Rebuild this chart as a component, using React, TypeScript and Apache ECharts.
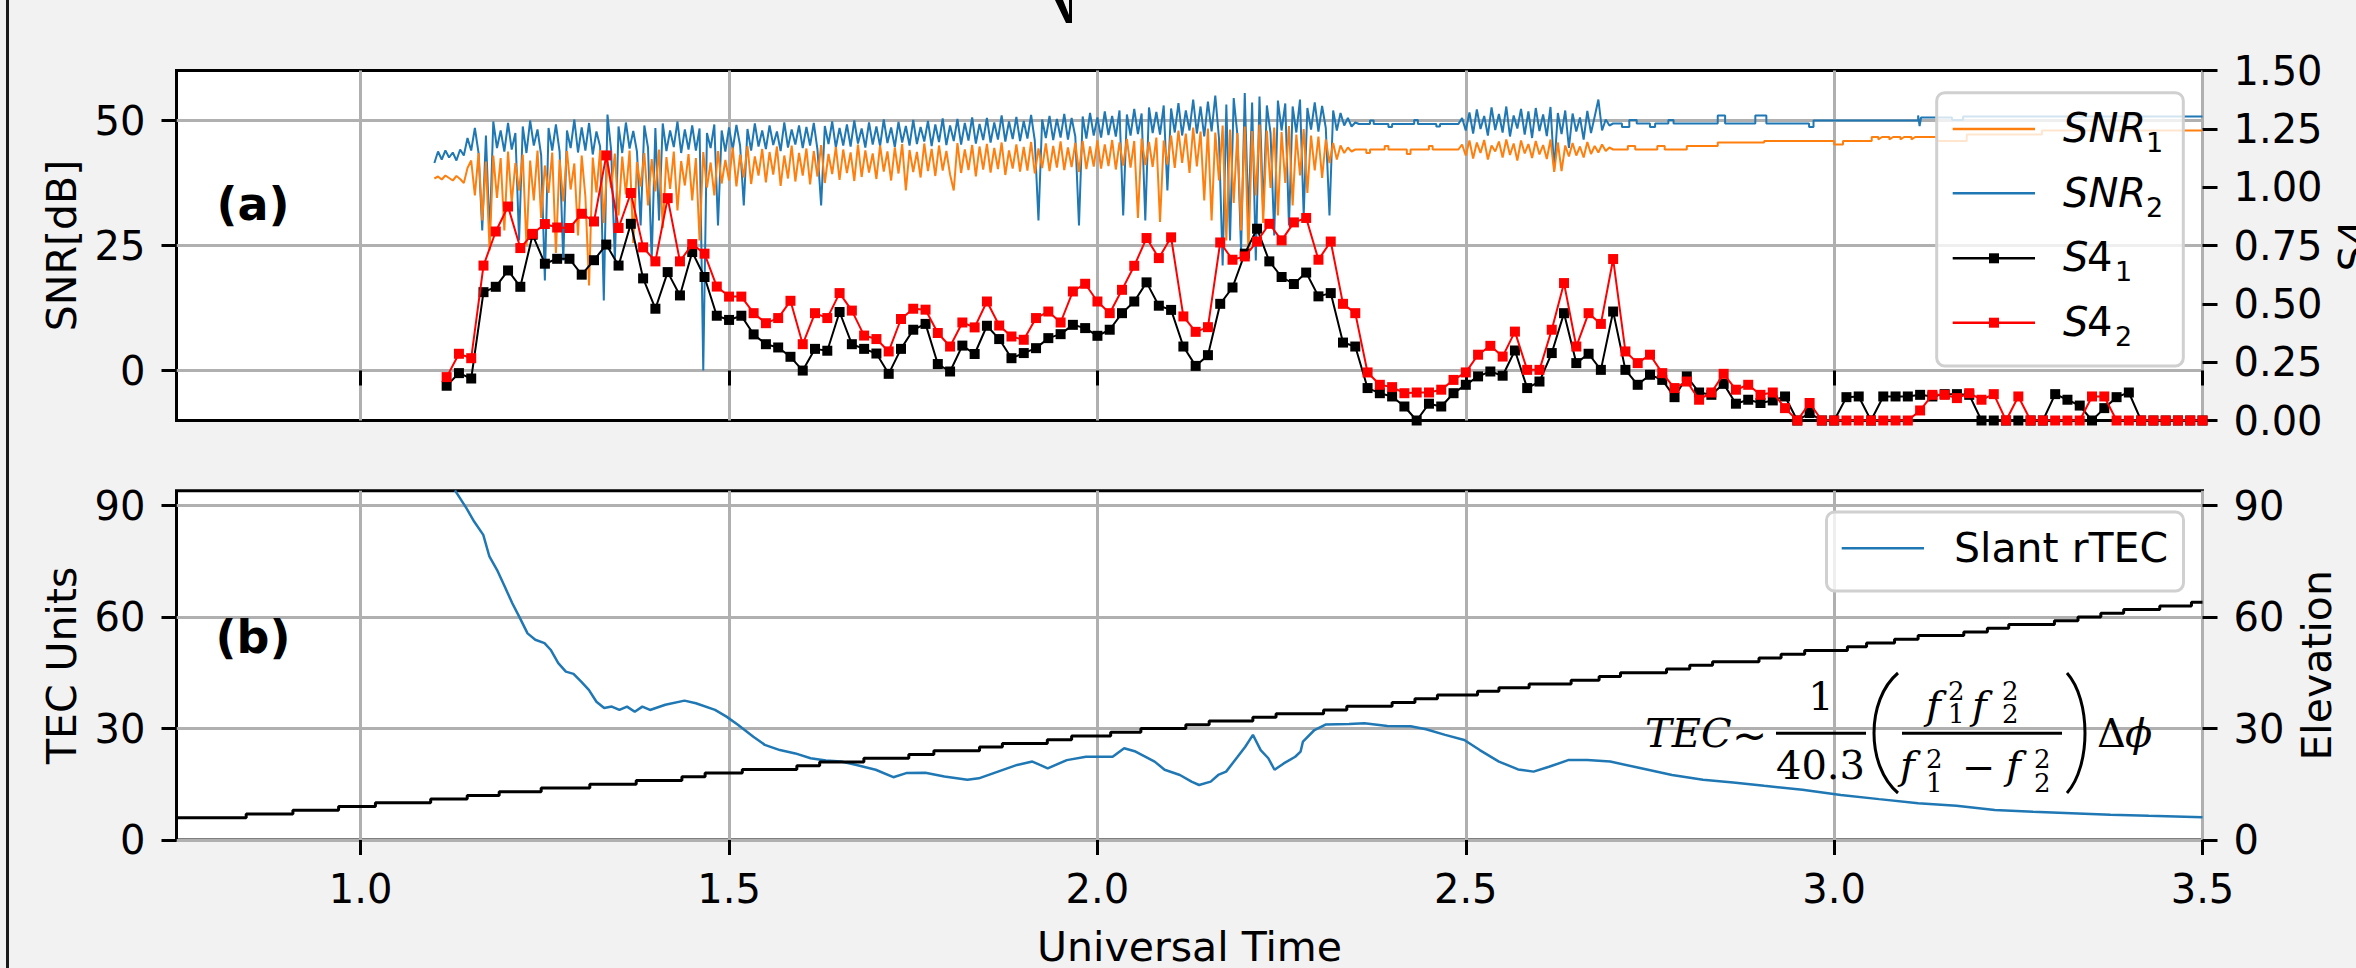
import React, { useEffect, useRef } from 'react';
import * as echarts from 'echarts';

// ---------- axis ticks ----------
const X_TICKS = [1.0, 1.5, 2.0, 2.5, 3.0, 3.5];
const SNR_TICKS = [0, 25, 50];
const TEC_TICKS = [0, 30, 60, 90];
const ELEV_TICKS = [0, 30, 60, 90];

// ---------- SNR (dB), noisy part sampled every 0.005 h from 1.100 h ----------
const SNR_A_START = 1.1;
const SNR_B_START = 2.495;
const SNR_STEP = 0.005;

const snr2NoiseA = [
  41.5, 43.8, 42.2, 44.0, 42.6, 43.6, 42.0, 44.2, 43.0, 46.5,
  44.0, 48.5, 43.5, 28.0, 47.0, 27.0, 49.8, 44.5, 48.0, 43.8,
  49.5, 44.2, 47.5, 26.0, 48.8, 43.5, 50.0, 45.0, 48.2, 43.0,
  18.0, 48.5, 44.0, 49.2, 43.8, 22.0, 48.0, 44.5, 50.2, 43.6,
  48.6, 44.0, 49.5, 43.2, 47.8, 44.8, 14.0, 51.2, 44.0, 22.0,
  48.8, 43.5, 49.6, 44.4, 47.9, 43.8, 29.0, 49.0, 44.6, 22.0,
  48.5, 30.0, 49.4, 43.9, 48.0, 44.7, 49.8, 43.5, 48.2, 44.2,
  49.0, 44.0, 48.4, 0.0, 47.5, 44.5, 49.2, 29.0, 48.0, 43.8,
  48.6, 44.2, 49.1, 45.0, 33.0, 48.3, 44.0, 49.4, 44.8, 48.0,
  44.3, 49.0, 45.1, 47.8, 43.9, 49.6, 44.6, 48.2, 45.2, 49.0,
  44.5, 48.7, 45.0, 49.5, 44.2, 33.0, 48.9, 45.3, 49.8, 44.6,
  48.5, 45.0, 49.2, 44.8, 50.0, 45.4, 48.4, 44.6, 49.6, 45.2,
  48.8, 44.9, 50.2, 45.5, 48.6, 44.7, 49.7, 45.6, 48.9, 45.0,
  50.1, 45.3, 48.7, 45.8, 49.9, 44.9, 49.2, 45.7, 50.4, 45.1,
  49.0, 45.9, 50.3, 45.2, 49.5, 46.0, 50.6, 45.4, 49.3, 46.1,
  50.5, 45.6, 49.6, 46.2, 51.0, 45.8, 49.8, 46.3, 50.7, 45.9,
  49.9, 46.4, 51.1, 46.0, 30.0, 50.2, 46.5, 50.9, 46.1, 50.3,
  46.6, 51.3, 46.2, 50.5, 46.8, 29.0, 50.8, 46.4, 51.5, 47.0,
  50.6, 46.6, 51.8, 47.1, 50.9, 46.8, 52.0, 31.0, 51.2, 47.0,
  52.3, 47.3, 51.4, 30.0, 52.6, 47.5, 51.7, 47.2, 53.0, 36.0,
  52.4, 47.6, 53.5, 47.0, 52.0, 48.0, 54.2, 47.4, 52.8, 46.8,
  53.8, 47.8, 55.0, 46.5, 21.0, 53.2, 26.0, 54.5, 47.2, 24.0,
  55.5, 30.0, 53.6, 22.0, 54.8, 32.0, 53.0, 47.5, 27.0, 54.0,
  48.0, 53.4, 29.0, 52.8, 47.6, 54.2, 31.0, 52.5, 48.2, 53.6,
  47.8, 52.9, 48.5, 31.0, 52.0, 48.0, 51.5, 49.0, 50.5, 48.8,
  49.6,
];

const snr1NoiseA = [
  38.4, 38.8, 38.2, 39.0, 38.5, 38.0, 38.9, 38.3, 37.5, 40.5,
  42.0, 35.0, 43.5, 30.0, 41.8, 24.0, 43.0, 34.5, 42.5, 28.0,
  43.8, 33.5, 41.5, 36.0, 43.2, 25.0, 42.0, 34.0, 44.0, 30.5,
  41.0, 35.5, 43.6, 23.5, 42.2, 33.8, 43.9, 36.2, 41.4, 27.0,
  43.0, 34.8, 17.0, 42.6, 35.6, 44.1, 29.5, 42.0, 36.5, 43.4,
  31.0, 42.8, 35.2, 44.0, 25.5, 41.7, 36.8, 43.5, 33.0, 42.3,
  35.8, 44.2, 28.5, 42.7, 36.3, 43.8, 32.0, 41.9, 37.0, 43.3,
  34.0, 42.5, 26.0, 43.7, 36.6, 41.6, 35.0, 43.9, 37.4, 42.1,
  38.0, 44.6, 36.8, 43.2, 38.6, 44.9, 37.3, 42.8, 39.0, 44.3,
  37.6, 43.7, 39.2, 44.8, 36.9, 43.0, 38.4, 45.0, 37.8, 43.5,
  39.0, 44.4, 37.2, 43.9, 38.8, 45.1, 37.5, 43.3, 39.3, 44.7,
  38.1, 44.2, 39.5, 43.6, 37.9, 45.2, 38.7, 44.0, 39.6, 43.4,
  38.3, 45.0, 39.8, 43.8, 38.0, 44.6, 39.4, 45.3, 36.0, 44.1,
  39.7, 43.7, 38.6, 45.4, 39.9, 44.3, 38.9, 45.0, 40.0, 43.9,
  39.2, 36.0, 45.5, 39.5, 44.2, 40.1, 45.1, 38.8, 44.8, 40.2,
  45.3, 39.6, 44.5, 40.3, 45.6, 39.1, 44.0, 40.4, 45.2, 39.8,
  44.7, 40.0, 45.7, 39.4, 44.4, 40.5, 45.4, 39.9, 44.9, 40.6,
  45.8, 40.1, 44.6, 40.7, 45.5, 39.7, 45.9, 40.3, 44.8, 40.8,
  46.0, 40.4, 45.2, 40.9, 46.1, 40.2, 45.6, 41.0, 46.3, 40.6,
  45.9, 30.5, 46.4, 41.1, 45.7, 40.7, 46.6, 29.7, 46.0, 41.2,
  47.0, 40.5, 48.0, 41.5, 47.4, 39.5, 48.6, 40.8, 47.8, 34.0,
  48.4, 30.0, 47.6, 38.0, 49.0, 26.0, 48.2, 33.5, 47.5, 28.0,
  48.8, 23.6, 47.9, 35.0, 49.2, 29.5, 48.0, 36.5, 48.6, 31.0,
  47.7, 37.5, 48.9, 33.0, 47.2, 39.0, 48.3, 35.5, 47.0, 40.0,
  46.8, 38.5, 46.2, 41.5, 45.5, 42.2, 45.0, 43.5, 44.6, 43.8,
  44.2,
];

const snr2Mid: number[][] = [
  [2.355, 49.3], [2.37, 49.3], [2.37, 50.0], [2.375, 50.0], [2.375, 49.3], [2.395, 49.3],
  [2.395, 48.7], [2.4, 48.7], [2.4, 49.3], [2.43, 49.3], [2.43, 50.1], [2.435, 50.1],
  [2.435, 49.3], [2.46, 49.3], [2.46, 48.8], [2.465, 48.8], [2.465, 49.3], [2.49, 49.3],
];
const snr1Mid: number[][] = [
  [2.355, 44.2], [2.365, 44.2], [2.365, 43.5], [2.37, 43.5], [2.37, 44.2], [2.39, 44.2],
  [2.39, 44.9], [2.395, 44.9], [2.395, 44.2], [2.42, 44.2], [2.42, 43.3], [2.425, 43.3],
  [2.425, 44.2], [2.45, 44.2], [2.45, 44.9], [2.455, 44.9], [2.455, 44.2], [2.49, 44.2],
];

const snr2NoiseB = [
  50.5, 48.0, 51.6, 47.4, 52.2, 48.3, 50.9, 47.0, 52.6, 48.1,
  51.3, 47.6, 52.8, 46.8, 51.0, 48.4, 52.3, 47.2, 51.8, 46.5,
  52.5, 47.9, 51.2, 46.9, 52.7, 40.2, 51.5, 47.3, 52.0, 44.5,
  51.4, 47.8, 50.6, 46.2, 51.9, 47.5, 50.8, 54.2, 48.0, 50.2,
  49.0, 49.4,
];
const snr1NoiseB = [
  45.2, 43.0, 46.0, 42.4, 45.6, 43.5, 46.1, 42.2, 45.0, 43.8,
  45.8, 42.6, 46.2, 43.1, 45.4, 42.0, 46.0, 43.4, 45.3, 42.5,
  45.9, 43.2, 45.1, 42.3, 46.2, 39.7, 45.6, 39.9, 45.0, 42.8,
  45.5, 43.0, 44.8, 42.6, 45.7, 43.3, 44.9, 43.6, 45.2, 43.9,
  44.6, 44.2,
];

const snr2Tail: number[][] = [
  [2.7, 49.4], [2.712, 49.4], [2.712, 48.7], [2.722, 48.7], [2.722, 50.1], [2.732, 50.1],
  [2.732, 49.4], [2.75, 49.4], [2.75, 48.7], [2.757, 48.7], [2.757, 49.4], [2.775, 49.4],
  [2.775, 50.1], [2.782, 50.1], [2.782, 49.4], [2.842, 49.4], [2.842, 51.0], [2.852, 51.0],
  [2.852, 49.4], [2.893, 49.4], [2.893, 51.0], [2.908, 51.0], [2.908, 49.4], [2.966, 49.4],
  [2.966, 48.7], [2.972, 48.7], [2.972, 50.0], [3.114, 50.0], [3.114, 51.0], [3.116, 48.9],
  [3.118, 50.6], [3.16, 50.6], [3.16, 50.1], [3.175, 50.1], [3.175, 50.8], [3.5, 50.8],
];
const snr1Tail: number[][] = [
  [2.7, 44.2], [2.72, 44.2], [2.72, 44.9], [2.73, 44.9], [2.73, 44.2], [2.76, 44.2],
  [2.76, 44.9], [2.77, 44.9], [2.77, 44.2], [2.8, 44.2], [2.8, 44.9], [2.842, 44.9],
  [2.842, 45.6], [2.905, 45.6], [2.905, 45.9], [3.0, 45.9], [3.0, 45.2], [3.012, 45.2],
  [3.012, 45.9], [3.051, 45.9], [3.051, 46.7], [3.06, 46.7], [3.06, 46.2], [3.065, 46.7],
  [3.075, 46.7], [3.075, 46.2], [3.08, 46.7], [3.09, 46.7], [3.09, 46.2], [3.095, 46.7],
  [3.105, 46.7], [3.105, 46.2], [3.11, 46.7], [3.14, 46.7], [3.14, 45.9], [3.18, 45.9],
  [3.18, 47.2], [3.282, 47.2], [3.282, 48.0], [3.5, 48.0],
];

// ---------- S4 index, one value per minute from 1.1167 h ----------
const S4_START = 1.1167;
const S4_STEP = 1 / 60;
const s4One = [
  0.149, 0.203, 0.180, 0.550, 0.573, 0.643, 0.573, 0.796, 0.672, 0.693,
  0.693, 0.625, 0.687, 0.754, 0.664, 0.843, 0.609, 0.479, 0.636, 0.536,
  0.722, 0.615, 0.449, 0.431, 0.449, 0.369, 0.327, 0.313, 0.273, 0.214,
  0.307, 0.299, 0.465, 0.327, 0.307, 0.287, 0.200, 0.307, 0.389, 0.414,
  0.242, 0.210, 0.321, 0.285, 0.406, 0.349, 0.267, 0.289, 0.310, 0.353,
  0.370, 0.410, 0.396, 0.363, 0.389, 0.460, 0.510, 0.592, 0.492, 0.474,
  0.317, 0.234, 0.280, 0.500, 0.570, 0.715, 0.822, 0.682, 0.615, 0.585,
  0.634, 0.532, 0.546, 0.334, 0.317, 0.139, 0.117, 0.103, 0.060, 0.000,
  0.072, 0.060, 0.117, 0.153, 0.189, 0.210, 0.192, 0.300, 0.139, 0.167,
  0.289, 0.460, 0.246, 0.286, 0.217, 0.467, 0.217, 0.153, 0.196, 0.174,
  0.100, 0.189, 0.120, 0.110, 0.157, 0.072, 0.089, 0.075, 0.086, 0.103,
  0.000, 0.032, 0.000, 0.000, 0.100, 0.103, 0.000, 0.103, 0.103, 0.103,
  0.110, 0.103, 0.113, 0.113, 0.110, 0.000, 0.000, 0.000, 0.000, 0.000,
  0.000, 0.113, 0.089, 0.064, 0.000, 0.053, 0.100, 0.120, 0.000, 0.000,
  0.000, 0.000, 0.000, 0.000,
];
const s4Two = [
  0.186, 0.286, 0.267, 0.664, 0.810, 0.917, 0.739, 0.800, 0.842, 0.827,
  0.825, 0.886, 0.853, 1.136, 0.825, 0.975, 0.742, 0.682, 0.953, 0.682,
  0.756, 0.715, 0.574, 0.531, 0.531, 0.460, 0.417, 0.439, 0.513, 0.327,
  0.460, 0.439, 0.546, 0.471, 0.364, 0.349, 0.296, 0.435, 0.479, 0.475,
  0.375, 0.317, 0.420, 0.399, 0.510, 0.407, 0.360, 0.346, 0.439, 0.467,
  0.420, 0.553, 0.586, 0.510, 0.460, 0.560, 0.663, 0.782, 0.696, 0.785,
  0.446, 0.380, 0.400, 0.763, 0.689, 0.703, 0.767, 0.843, 0.772, 0.849,
  0.868, 0.689, 0.767, 0.500, 0.460, 0.206, 0.153, 0.143, 0.117, 0.120,
  0.120, 0.132, 0.174, 0.206, 0.282, 0.320, 0.274, 0.381, 0.217, 0.217,
  0.389, 0.589, 0.317, 0.460, 0.414, 0.692, 0.296, 0.246, 0.282, 0.203,
  0.139, 0.167, 0.089, 0.120, 0.200, 0.132, 0.153, 0.110, 0.120, 0.053,
  0.000, 0.075, 0.000, 0.000, 0.000, 0.000, 0.000, 0.000, 0.000, 0.000,
  0.043, 0.110, 0.110, 0.096, 0.117, 0.089, 0.113, 0.000, 0.103, 0.000,
  0.000, 0.000, 0.000, 0.000, 0.103, 0.103, 0.000, 0.000, 0.000, 0.000,
  0.000, 0.000, 0.000, 0.000,
];

// ---------- Slant rTEC (time h, TECU) ----------
const tecPoints: number[][] = [
  [1.128, 94.1], [1.1435, 89.3], [1.154, 85.7], [1.1664, 82.1], [1.1747, 76.3], [1.185, 72.7],
  [1.1955, 68.2], [1.2058, 63.7], [1.2162, 59.7], [1.2265, 55.6], [1.237, 53.9], [1.2495, 53.0],
  [1.2578, 51.2], [1.2682, 47.6], [1.2785, 45.3], [1.2889, 44.7], [1.2993, 42.6], [1.3097, 40.4],
  [1.32, 37.2], [1.3305, 35.5], [1.3408, 35.9], [1.3512, 35.0], [1.3615, 35.9], [1.372, 34.5],
  [1.3823, 35.9], [1.3927, 35.0], [1.4135, 36.4], [1.4395, 37.5], [1.455, 36.8], [1.481, 35.0],
  [1.4965, 33.2], [1.512, 31.0], [1.533, 27.8], [1.5485, 25.6], [1.569, 24.2], [1.59, 23.3],
  [1.6107, 22.0], [1.6315, 21.4], [1.6522, 21.1], [1.673, 20.2], [1.699, 18.9], [1.723, 16.9],
  [1.7405, 18.0], [1.7664, 18.1], [1.7923, 17.1], [1.8235, 16.2], [1.839, 16.6], [1.865, 18.4],
  [1.891, 20.2], [1.9117, 21.1], [1.922, 20.2], [1.9325, 19.3], [1.9585, 21.5], [1.9844, 22.4],
  [2.0207, 22.4], [2.0363, 24.7], [2.0518, 23.8], [2.0777, 21.1], [2.0912, 18.9], [2.112, 17.5],
  [2.1277, 15.7], [2.138, 14.8], [2.1538, 15.7], [2.164, 17.5], [2.1747, 18.4], [2.1903, 22.4],
  [2.2007, 25.1], [2.2111, 28.3], [2.2216, 24.2], [2.232, 22.0], [2.2404, 18.9], [2.2529, 20.6],
  [2.2685, 22.4], [2.2758, 23.8], [2.279, 26.5], [2.2946, 29.6], [2.3103, 31.1], [2.3416, 31.2],
  [2.3624, 31.4], [2.3937, 30.7], [2.425, 30.6], [2.446, 29.8], [2.472, 28.3], [2.498, 26.9],
  [2.519, 24.2], [2.545, 21.1], [2.571, 19.0], [2.592, 18.4], [2.613, 19.7], [2.639, 21.5],
  [2.665, 21.5], [2.696, 21.1], [2.738, 19.3], [2.78, 17.5], [2.822, 16.2], [2.863, 15.5],
  [2.905, 14.6], [2.957, 13.5], [3.009, 12.1], [3.061, 11.0], [3.114, 9.9], [3.166, 9.2],
  [3.218, 8.1], [3.27, 7.6], [3.322, 7.2], [3.375, 6.8], [3.427, 6.5], [3.5, 6.1],
];

// ---------- Elevation (deg), step changes ----------
const elevTimes = [
  0.75, 0.8446, 0.908, 0.97, 1.02, 1.095, 1.1446, 1.188, 1.245, 1.311,
  1.374, 1.436, 1.4675, 1.518, 1.592, 1.623, 1.683, 1.744, 1.778, 1.84,
  1.871, 1.932, 1.965, 2.018, 2.059, 2.12, 2.1517, 2.211, 2.2425, 2.307,
  2.3385, 2.4, 2.431, 2.4615, 2.516, 2.545, 2.586, 2.643, 2.681, 2.71,
  2.7725, 2.804, 2.835, 2.898, 2.928, 2.96, 3.018, 3.044, 3.082, 3.114,
  3.176, 3.208, 3.237, 3.299, 3.331, 3.362, 3.393, 3.442, 3.485,
];
const elevValues = [
  6, 7, 8, 9, 10, 11, 12, 13, 14, 15,
  16, 17, 18, 19, 20, 21, 22, 23, 24, 25,
  26, 27, 28, 29, 30, 31, 32, 33, 34, 35,
  36, 37, 38, 39, 40, 41, 42, 43, 44, 45,
  46, 47, 48, 49, 50, 51, 52, 53, 54, 55,
  56, 57, 58, 59, 60, 61, 62, 63, 64,
];
const X_END = 3.5;

// ---------- styling constants ----------
const SANS = "'DejaVu Sans', sans-serif";
const SERIF = "'DejaVu Serif', serif";
const TICK_FS = 40;
const NAME_FS = 41;

function sampled(values: number[], start: number, step: number): number[][] {
  return values.map((v, i) => [Math.round((start + i * step) * 10000) / 10000, v]);
}

function txt(x: number, y: number, text: string, o: any = {}) {
  const style: any = {
    text,
    fill: '#000',
    fontFamily: o.family || SANS,
    fontSize: o.size || 40,
    fontStyle: o.italic ? 'italic' : 'normal',
    fontWeight: o.bold ? 'bold' : 'normal',
    align: o.align || 'left',
    textAlign: o.align || 'left',
    verticalAlign: 'middle',
    textVerticalAlign: 'middle',
  };
  if (o.lh) style.lineHeight = o.lh;
  return { type: 'text', x, y, z: 100, style };
}

function hline(x1: number, x2: number, y: number, color: string, w: number) {
  return { type: 'line', z: 100, shape: { x1, y1: y, x2, y2: y }, style: { stroke: color, lineWidth: w } };
}

function marker(cx: number, cy: number, color: string) {
  return { type: 'rect', z: 101, shape: { x: cx - 5, y: cy - 5, width: 10, height: 10 }, style: { fill: color } };
}

export default function App() {
  const ref = useRef<HTMLDivElement>(null);

  useEffect(() => {
    document.body.style.margin = '0';
    if (!ref.current) return;
    const chart = echarts.init(ref.current, null, { renderer: 'svg' });

    const snr2Data = [
      ...sampled(snr2NoiseA, SNR_A_START, SNR_STEP),
      ...snr2Mid,
      ...sampled(snr2NoiseB, SNR_B_START, SNR_STEP),
      ...snr2Tail,
    ];
    const snr1Data = [
      ...sampled(snr1NoiseA, SNR_A_START, SNR_STEP),
      ...snr1Mid,
      ...sampled(snr1NoiseB, SNR_B_START, SNR_STEP),
      ...snr1Tail,
    ];
    const s4OneData = s4One.map((v, k) => [S4_START + k * S4_STEP, v]);
    const s4TwoData = s4Two.map((v, k) => [S4_START + k * S4_STEP, v]);
    const elevData = elevTimes.map((t, i) => [t, elevValues[i]]);
    elevData.push([X_END, elevValues[elevValues.length - 1]]);

    const tickStyle = { color: '#000', width: 3 };
    const labelBase = { color: '#000', fontSize: TICK_FS, fontFamily: SANS };
    const nameStyle = { color: '#000', fontSize: NAME_FS, fontFamily: SANS };
    const gridLine = { show: true, lineStyle: { color: '#b0b0b0', width: 3 } };

    const xCommon = (gridIndex: number, showLabels: boolean) => ({
      gridIndex,
      type: 'value',
      min: 0.75,
      max: 3.5,
      axisLine: { show: false },
      axisTick: { show: true, customValues: X_TICKS, length: 15, inside: false, lineStyle: tickStyle },
      axisLabel: {
        show: showLabels,
        customValues: X_TICKS,
        margin: 29,
        formatter: (v: number) => v.toFixed(1),
        ...labelBase,
      },
      splitLine: gridLine,
    });

    const option: any = {
      animation: false,
      backgroundColor: '#f2f2f2',
      textStyle: { fontFamily: SANS },
      grid: [
        {
          left: 176.5, right: 153.5, top: 70.5, height: 350,
          show: true, backgroundColor: '#ffffff', borderColor: '#000', borderWidth: 3,
          containLabel: false, outerBoundsMode: 'none',
        },
        {
          left: 176.5, right: 153.5, top: 490.7, height: 349.3,
          show: true, backgroundColor: '#ffffff', borderColor: '#000', borderWidth: 3,
          containLabel: false, outerBoundsMode: 'none',
        },
      ],
      xAxis: [
        xCommon(0, false),
        {
          ...xCommon(1, true),
          name: 'Universal Time',
          nameLocation: 'middle',
          nameGap: 86,
          nameTextStyle: nameStyle,
        },
      ],
      yAxis: [
        {
          gridIndex: 0, type: 'value', position: 'left', min: -10, max: 60,
          axisLine: { show: false },
          axisTick: { show: true, customValues: SNR_TICKS, length: 15, lineStyle: tickStyle },
          axisLabel: { customValues: SNR_TICKS, margin: 31, ...labelBase },
          splitLine: gridLine,
          name: 'SNR[dB]', nameLocation: 'middle', nameGap: 94, nameRotate: 90, nameTextStyle: nameStyle,
        },
        {
          gridIndex: 0, type: 'value', position: 'right', min: 0, max: 1.5, interval: 0.25,
          axisLine: { show: false },
          axisTick: { show: true, length: 15, lineStyle: tickStyle },
          axisLabel: { margin: 31, formatter: (v: number) => v.toFixed(2), ...labelBase },
          splitLine: { show: false },
          name: 'S4', nameLocation: 'middle', nameGap: 130, nameRotate: 90, nameTextStyle: nameStyle,
        },
        {
          gridIndex: 1, type: 'value', position: 'left', min: 0, max: 94,
          axisLine: { show: false },
          axisTick: { show: true, customValues: TEC_TICKS, length: 15, lineStyle: tickStyle },
          axisLabel: { customValues: TEC_TICKS, margin: 31, ...labelBase },
          splitLine: gridLine,
          name: 'TEC Units', nameLocation: 'middle', nameGap: 94, nameRotate: 90, nameTextStyle: nameStyle,
        },
        {
          gridIndex: 1, type: 'value', position: 'right', min: 0, max: 94,
          axisLine: { show: false },
          axisTick: { show: true, customValues: ELEV_TICKS, length: 15, lineStyle: tickStyle },
          axisLabel: { customValues: ELEV_TICKS, margin: 31, ...labelBase },
          splitLine: { show: false },
          name: 'Elevation', nameLocation: 'middle', nameGap: 94, nameRotate: 90, nameTextStyle: nameStyle,
        },
      ],
      series: [
        {
          name: 'SNR2', type: 'line', xAxisIndex: 0, yAxisIndex: 0, data: snr2Data,
          symbol: 'none', showSymbol: false, silent: true, z: 2,
          lineStyle: { color: '#1f77b4', width: 2 }, itemStyle: { color: '#1f77b4' },
        },
        {
          name: 'SNR1', type: 'line', xAxisIndex: 0, yAxisIndex: 0, data: snr1Data,
          symbol: 'none', showSymbol: false, silent: true, z: 3,
          lineStyle: { color: '#ff7f0e', width: 2 }, itemStyle: { color: '#ff7f0e' },
        },
        {
          name: 'S4_1', type: 'line', xAxisIndex: 0, yAxisIndex: 1, data: s4OneData,
          symbol: 'rect', symbolSize: 10, silent: true, z: 4,
          lineStyle: { color: '#000000', width: 2 }, itemStyle: { color: '#000000' },
        },
        {
          name: 'S4_2', type: 'line', xAxisIndex: 0, yAxisIndex: 1, data: s4TwoData,
          symbol: 'rect', symbolSize: 10, silent: true, z: 5,
          lineStyle: { color: '#ff0000', width: 2 }, itemStyle: { color: '#ff0000' },
        },
        {
          name: 'Slant rTEC', type: 'line', xAxisIndex: 1, yAxisIndex: 2, data: tecPoints,
          symbol: 'none', showSymbol: false, silent: true, z: 2,
          lineStyle: { color: '#1f77b4', width: 2.5 }, itemStyle: { color: '#1f77b4' },
        },
        {
          name: 'Elevation', type: 'line', xAxisIndex: 1, yAxisIndex: 3, data: elevData, step: 'end',
          symbol: 'none', showSymbol: false, silent: true, z: 3,
          lineStyle: { color: '#000000', width: 3 }, itemStyle: { color: '#000000' },
        },
      ],
      graphic: [
        // figure frame fragment at left and cut title glyph at top
        { type: 'rect', z: 100, shape: { x: 6, y: 0, width: 3, height: 968 }, style: { fill: '#1a1a1a' } },
        {
          type: 'polygon', z: 100,
          shape: { points: [[1055, 0], [1063, 0], [1069, 15], [1069, 0], [1072, 0], [1072, 23], [1066, 23]] },
          style: { fill: '#000' },
        },
        // panel labels
        txt(253, 204, '(a)', { size: 46, bold: true, align: 'center' }),
        txt(253, 637, '(b)', { size: 46, bold: true, align: 'center' }),
        // legend (a)
        {
          type: 'rect', z: 99,
          shape: { x: 1936.7, y: 92.7, width: 246.6, height: 273.3, r: 8 },
          style: { fill: 'rgba(255,255,255,0.8)', stroke: '#d0d0d0', lineWidth: 3 },
        },
        hline(1952.7, 2035, 129, '#ff7f0e', 2.5),
        hline(1952.7, 2035, 193.3, '#1f77b4', 2.5),
        hline(1952.7, 2035, 258.3, '#000000', 2.5),
        marker(1994, 258.3, '#000000'),
        hline(1952.7, 2035, 322.7, '#ff0000', 2.5),
        marker(1994, 322.7, '#ff0000'),
        txt(2063, 127.5, 'SNR', { size: 40, italic: true }),
        txt(2146, 142, '1', { size: 27 }),
        txt(2063, 192.5, 'SNR', { size: 40, italic: true }),
        txt(2146, 207, '2', { size: 27 }),
        txt(2063, 257.2, 'S', { size: 40, italic: true }),
        txt(2087, 257.2, '4', { size: 40 }),
        txt(2115, 271, '1', { size: 27 }),
        txt(2063, 322, 'S', { size: 40, italic: true }),
        txt(2087, 322, '4', { size: 40 }),
        txt(2115, 336, '2', { size: 27 }),
        // legend (b)
        {
          type: 'rect', z: 99,
          shape: { x: 1826.5, y: 512, width: 357, height: 79, r: 8 },
          style: { fill: 'rgba(255,255,255,0.8)', stroke: '#d0d0d0', lineWidth: 3 },
        },
        hline(1841.7, 1924, 548.3, '#1f77b4', 2.5),
        txt(1954, 547.5, 'Slant rTEC', { size: 41 }),
        // formula: TEC ~ 1/40.3 (f1^2 f2^2 / (f1^2 - f2^2)) Δϕ
        txt(1645, 733, 'TEC', { family: SERIF, size: 40, italic: true }),
        txt(1732, 735, '~', { size: 42 }),
        hline(1776, 1866, 733.3, '#000', 3),
        txt(1821, 696, '1', { family: SERIF, size: 40, align: 'center' }),
        txt(1820.5, 764.5, '40.3', { family: SERIF, size: 40, align: 'center' }),
        {
          type: 'bezierCurve', z: 100,
          shape: { x1: 1898, y1: 673, x2: 1898, y2: 793, cpx1: 1866, cpy1: 700, cpx2: 1866, cpy2: 766 },
          style: { stroke: '#000', lineWidth: 3, fill: 'none' },
        },
        txt(1926, 704.5, 'f', { family: SERIF, size: 40, italic: true }),
        txt(1948, 702.5, '2\n1', { family: SERIF, size: 26, lh: 23 }),
        txt(1972, 704.5, 'f', { family: SERIF, size: 40, italic: true }),
        txt(2002, 702.5, '2\n2', { family: SERIF, size: 26, lh: 23 }),
        hline(1902, 2062, 733.3, '#000', 3),
        txt(1900, 764.5, 'f', { family: SERIF, size: 40, italic: true }),
        txt(1926, 771, '2\n1', { family: SERIF, size: 26, lh: 24 }),
        txt(1962, 766.7, '\u2212', { family: SERIF, size: 40 }),
        txt(2006, 764.5, 'f', { family: SERIF, size: 40, italic: true }),
        txt(2034, 771, '2\n2', { family: SERIF, size: 26, lh: 24 }),
        {
          type: 'bezierCurve', z: 100,
          shape: { x1: 2067, y1: 673, x2: 2067, y2: 793, cpx1: 2091, cpy1: 700, cpx2: 2091, cpy2: 766 },
          style: { stroke: '#000', lineWidth: 3, fill: 'none' },
        },
        txt(2097, 733, '\u0394', { family: SERIF, size: 40 }),
        txt(2125, 733, '\u03D5', { family: SERIF, size: 40, italic: true }),
      ],
    };

    chart.setOption(option);
    return () => chart.dispose();
  }, []);

  return <div ref={ref} style={{ width: 2356, height: 968 }} />;
}
